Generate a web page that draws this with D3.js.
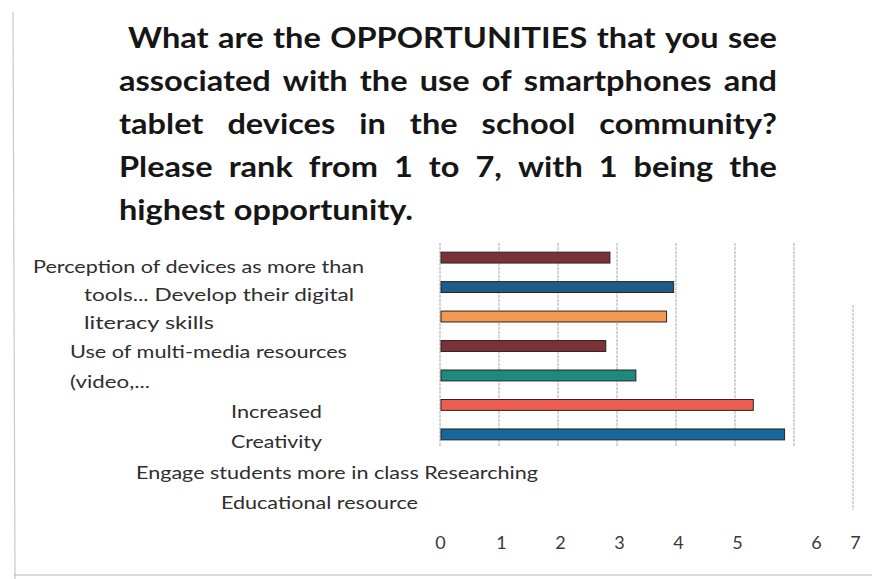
<!DOCTYPE html>
<html>
<head>
<meta charset="utf-8">
<script src="https://cdn.jsdelivr.net/npm/d3@7"></script>
<style>
  html, body { margin: 0; padding: 0; background: #ffffff; }
  svg { display: block; }
</style>
</head>
<body>
<svg id="chart" width="874" height="579"></svg>
<script>
// Survey ranking: mean rank per opportunity (1 = highest)
const categories = [
  "Perception of devices as more than tools...",
  "Develop their digital literacy skills",
  "Use of multi-media resources (video,...",
  "Increased Creativity",
  "Engage students more in class",
  "Researching",
  "Educational resource"
];
const meanRank = [2.88, 3.96, 3.84, 2.81, 3.32, 5.31, 5.84];
const barColors = ["#7a3238", "#1f5b87", "#f39a52", "#7a3238", "#1c8b7c", "#ec5f4f", "#15689a"];
const tickValues = [0, 1, 2, 3, 4, 5, 6, 7];

const titleLines = [
  "What are the OPPORTUNITIES that you see",
  "associated with the use of smartphones and",
  "tablet devices in the school community?",
  "Please rank from 1 to 7, with 1 being the",
  "highest opportunity."
];

// Wrapped category text as it is laid out beside the bars
const labelLines = [
  "Perception of devices as more than",
  "tools... Develop their digital",
  "literacy skills",
  "Use of multi-media resources",
  "(video,...",
  "Increased",
  "Creativity",
  "Engage students more in class Researching",
  "Educational resource"
];

const svg = d3.select("#chart");

// page frame
svg.append("line").attr("x1", 13).attr("y1", 12).attr("x2", 15).attr("y2", 579)
  .attr("stroke", "#c8c8c8").attr("stroke-width", 1.2);
svg.append("line").attr("x1", 14).attr("y1", 575).attr("x2", 872).attr("y2", 575)
  .attr("stroke", "#b8b8b8").attr("stroke-width", 1.2);

// ---- title, justified between two margins ----
const titleFont = "Lato, 'Open Sans', sans-serif";
const titleLeft = [128, 119, 119, 119, 119];
const titleRight = 777;
const lastLineRight = 413;
const titleBase0 = 48, titleStep = 43;

function wordNodes(g, line, yPos) {
  return line.split(" ").map(w => g.append("text")
    .attr("y", yPos)
    .attr("font-family", titleFont)
    .attr("font-weight", 700)
    .attr("font-size", 28.5)
    .attr("fill", "#161616")
    .text(w));
}

// horizontal stretch of the glyphs, set from the unjustified last line
const probe = svg.append("g");
const probeNodes = wordNodes(probe, titleLines[titleLines.length - 1], -100);
const probeW = probeNodes.map(n => n.node().getComputedTextLength());
const naturalSpace = 7.8;
const stretch = (lastLineRight - titleLeft[4]) / (d3.sum(probeW) + naturalSpace * (probeW.length - 1));
probe.remove();

titleLines.forEach((line, i) => {
  const yPos = titleBase0 + i * titleStep;
  const g = svg.append("g");
  const nodes = wordNodes(g, line, yPos);
  const widths = nodes.map(n => n.node().getComputedTextLength() * stretch);
  nodes.forEach((n, k) => n.attr("textLength", widths[k]).attr("lengthAdjust", "spacingAndGlyphs"));
  const last = i === titleLines.length - 1;
  const gap = last ? naturalSpace * stretch
    : (titleRight - titleLeft[i] - d3.sum(widths)) / (nodes.length - 1);
  let xPos = titleLeft[i];
  nodes.forEach((n, k) => { n.attr("x", xPos); xPos += widths[k] + gap; });
});

// ---- scales ----
const x = d3.scaleLinear().domain([0, 7]).range([440, 853]);
const y = d3.scaleBand().domain(categories).range([243, 449]).paddingInner(0.63).paddingOuter(0.31);

// vertical gridlines
const gridTop = 243, gridBottom = 447;
svg.append("g").selectAll("line")
  .data(tickValues.filter(v => v < 7))
  .join("line")
  .attr("x1", d => x(d)).attr("x2", d => x(d))
  .attr("y1", gridTop).attr("y2", gridBottom)
  .attr("stroke", "#a8a8a8").attr("stroke-width", 1)
  .attr("stroke-dasharray", "3,1");
// the outer boundary line at 7 sits lower on the page
svg.append("line")
  .attr("x1", x(7)).attr("x2", x(7))
  .attr("y1", 305).attr("y2", 510)
  .attr("stroke", "#b0b0b0").attr("stroke-width", 1)
  .attr("stroke-dasharray", "3,1");

// bars
svg.append("g").selectAll("rect")
  .data(categories)
  .join("rect")
  .attr("x", x(0) + 1)
  .attr("y", d => y(d))
  .attr("width", (d, i) => x(meanRank[i]) - x(0) - 1)
  .attr("height", y.bandwidth())
  .attr("fill", (d, i) => barColors[i])
  .attr("stroke", "#2b2224")
  .attr("stroke-width", 1);

// x axis tick labels
const axis = d3.axisBottom(x).tickValues(tickValues).tickSize(0).tickPadding(0)
  .tickFormat(d3.format("d"));
const axisG = svg.append("g").attr("transform", "translate(0,536)").call(axis);
axisG.select(".domain").remove();
axisG.selectAll("text")
  .attr("font-family", "Lato, 'Open Sans', sans-serif")
  .attr("font-size", 18)
  .attr("fill", "#3a3a3a")
  .attr("dx", d => d === 6 ? 22 : (d === 0 ? 0 : 2));

// category text lines
const labelX = [33, 84, 84, 70, 70, 231, 231, 136, 221];
const labelEnd = [364, 354, 214, 347, 150, 322, 322, 538, 418];
const labelBase = [273, 301, 329, 358, 388, 418, 448, 479, 509];
svg.append("g").selectAll("text")
  .data(labelLines)
  .join("text")
  .attr("x", (d, i) => labelX[i])
  .attr("y", (d, i) => labelBase[i])
  .attr("font-family", "Lato, 'Open Sans', sans-serif")
  .attr("font-size", 17)
  .attr("fill", "#2e2e2e")
  .attr("textLength", (d, i) => labelEnd[i] - labelX[i])
  .attr("lengthAdjust", "spacingAndGlyphs")
  .text(d => d);
</script>
</body>
</html>
